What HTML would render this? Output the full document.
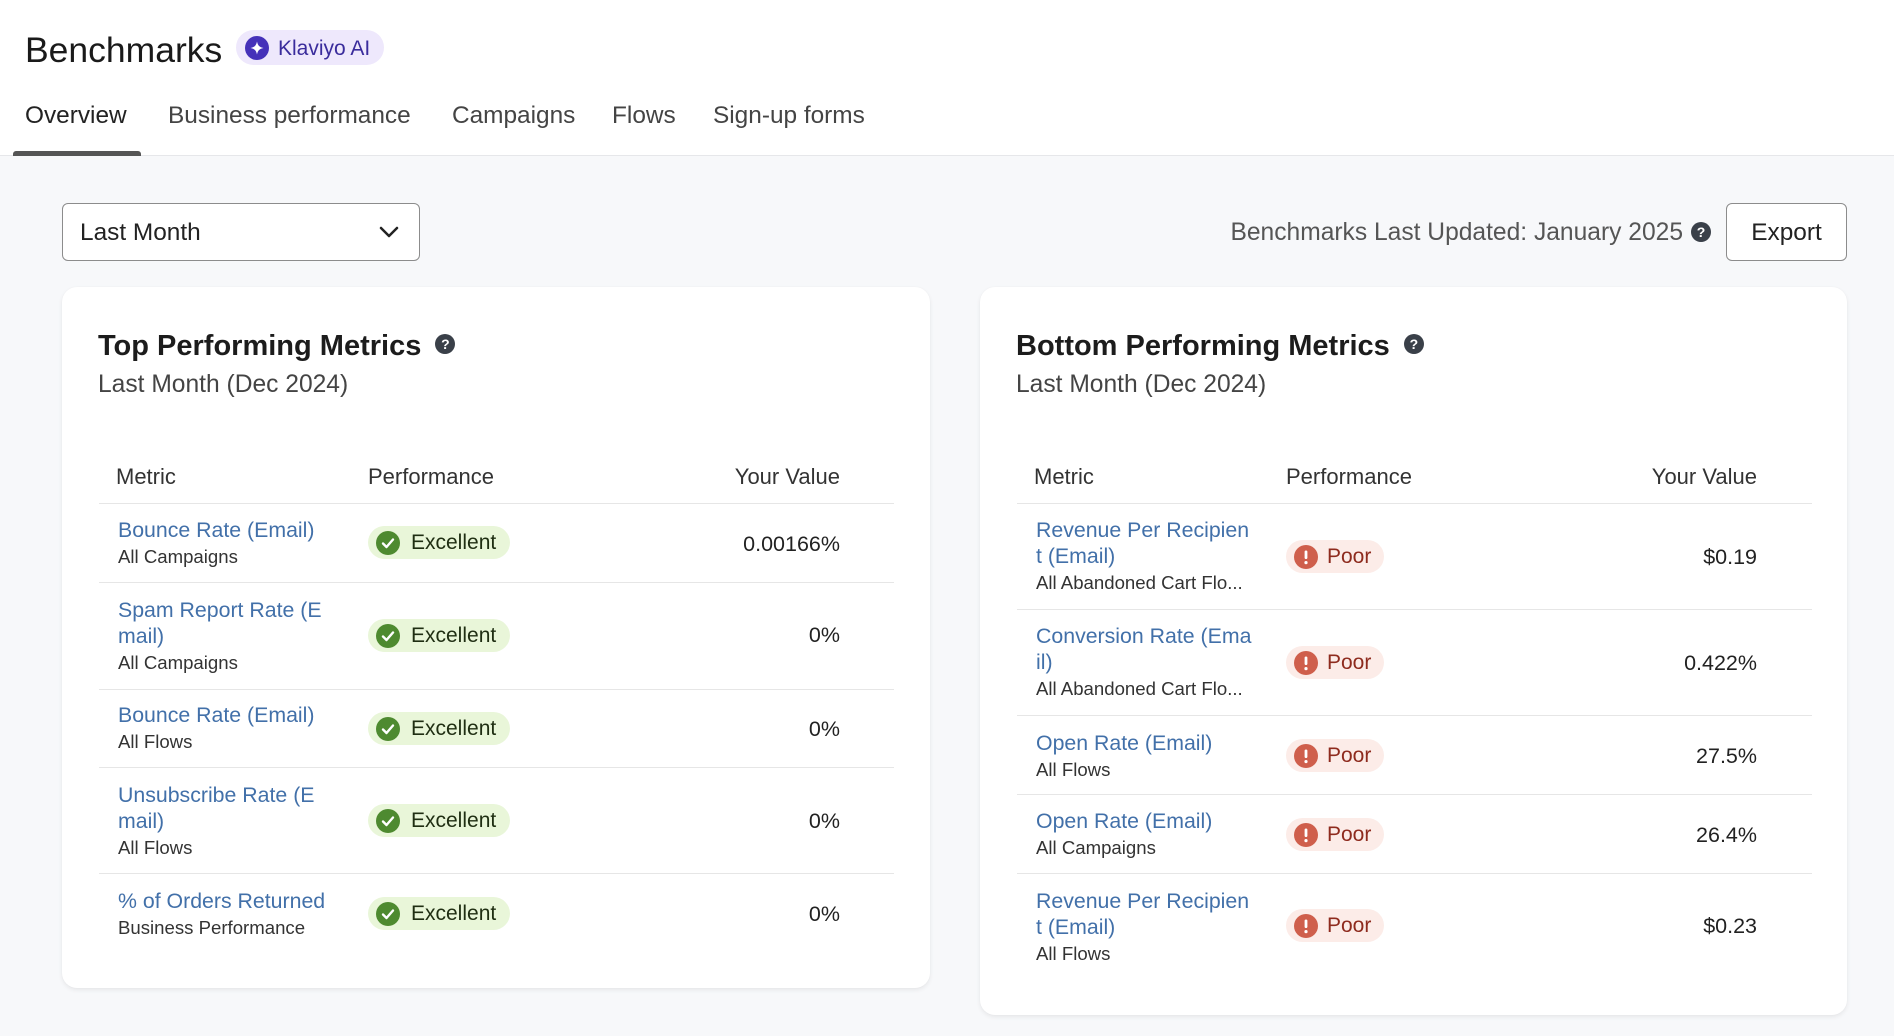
<!DOCTYPE html>
<html>
<head>
<meta charset="utf-8">
<style>
*{box-sizing:border-box;margin:0;padding:0}
html,body{width:1894px;height:1036px;overflow:hidden}
body{background:#f7f8fa;font-family:"Liberation Sans",Arial,sans-serif;color:#222;position:relative}
.abs{position:absolute;white-space:nowrap}
#top{position:absolute;left:0;top:0;width:1894px;height:156px;background:#fff;border-bottom:1px solid #e6e7ea}
.tab{position:absolute;top:102px;font-size:24.4px;line-height:28px;color:#444}
.card{position:absolute;background:#fff;border-radius:15px;box-shadow:0 2px 5px rgba(0,0,0,0.07),0 0 1px rgba(0,0,0,0.05)}
.ttl{position:absolute;left:36px;top:42px;font-size:29px;line-height:34px;font-weight:bold;color:#1c1c1c;white-space:nowrap}
.q{display:inline-block;width:20px;height:20px;border-radius:50%;background:#3a4049;color:#fff;font-size:14px;line-height:20px;text-align:center;font-weight:bold;vertical-align:middle;position:relative;top:-3px}
.sub{position:absolute;left:36px;top:84px;font-size:24.6px;line-height:28px;color:#444;white-space:nowrap}
.th{position:absolute;top:177px;font-size:22px;line-height:26px;color:#333;white-space:nowrap}
.line{position:absolute;left:37px;width:795px;height:1px;background:#e6e6e6}
.m{position:absolute;left:56px;white-space:nowrap;margin-top:1px}
.m .l{font-size:21.3px;line-height:26px;color:#4270a9}
.m .s{font-size:18.6px;line-height:28px;color:#333}
.bd{position:absolute;left:306px;height:33px;border-radius:17px;font-size:21px;line-height:33px;white-space:nowrap}
.bd svg{position:absolute;left:8px;top:4.5px}
.ex{width:142px;background:#e9f6d9;color:#1f2e12;padding-left:43px}
.pr{width:98px;background:#fcece8;color:#8e2b1e;padding-left:41px}
.v{position:absolute;right:90px;font-size:21.5px;line-height:26px;color:#222;white-space:nowrap;text-align:right;margin-top:1px}
</style>
</head>
<body>
<div id="top">
  <div class="abs" style="left:25px;top:29px;font-size:35.5px;line-height:42px;color:#1a1a1a">Benchmarks</div>
  <div class="abs" style="left:236px;top:30px;width:148px;height:35px;border-radius:18px;background:#eee8fc"></div>
  <svg class="abs" style="left:245px;top:36px" width="24" height="24" viewBox="0 0 24 24">
    <circle cx="12" cy="12" r="12" fill="#4531b9"/>
    <path d="M12 5.5 C12.8 9.5 14.5 11.2 18.5 12 C14.5 12.8 12.8 14.5 12 18.5 C11.2 14.5 9.5 12.8 5.5 12 C9.5 11.2 11.2 9.5 12 5.5Z" fill="#fff"/>
  </svg>
  <div class="abs" style="left:278px;top:36px;font-size:21px;line-height:26px;color:#3a2c9c">Klaviyo AI</div>

  <div class="tab" style="left:25px;color:#222">Overview</div>
  <div class="tab" style="left:168px">Business performance</div>
  <div class="tab" style="left:452px">Campaigns</div>
  <div class="tab" style="left:612px">Flows</div>
  <div class="tab" style="left:713px">Sign-up forms</div>
  <div class="abs" style="left:13px;top:151px;width:128px;height:5px;background:#555;border-radius:3px 3px 0 0"></div>
</div>

<!-- dropdown -->
<div class="abs" style="left:62px;top:203px;width:358px;height:58px;border:1px solid #8c8c8c;border-radius:6px;background:#fff"></div>
<div class="abs" style="left:80px;top:219px;font-size:24.4px;line-height:28px;color:#222">Last Month</div>
<svg class="abs" style="left:379px;top:226px" width="20" height="12" viewBox="0 0 20 12"><polyline points="2,2 10,10 18,2" fill="none" stroke="#222" stroke-width="2.5" stroke-linecap="round" stroke-linejoin="round"/></svg>

<div class="abs" style="left:1132px;width:551px;top:219px;font-size:24.6px;line-height:28px;color:#555;text-align:right">Benchmarks Last Updated: January 2025</div>
<div class="abs" style="left:1691px;top:222px;width:20px;height:20px;border-radius:50%;background:#3a4049;color:#fff;font-size:14px;line-height:20px;text-align:center;font-weight:bold">?</div>
<div class="abs" style="left:1726px;top:203px;width:121px;height:58px;border:1px solid #8c8c8c;border-radius:6px;background:#fff;font-size:24.4px;line-height:58px;text-align:center;color:#222">Export</div>

<!-- LEFT CARD -->
<div class="card" style="left:62px;top:287px;width:868px;height:701px">
  <div class="ttl">Top Performing Metrics <span class="q" style="margin-left:6px">?</span></div>
  <div class="sub">Last Month (Dec 2024)</div>
  <div class="th" style="left:54px">Metric</div>
  <div class="th" style="left:306px">Performance</div>
  <div class="th" style="right:90px">Your Value</div>
  <div class="line" style="top:216px"></div>

  <!-- row1 -->
  <div class="m" style="top:229px"><div class="l">Bounce Rate (Email)</div><div class="s">All Campaigns</div></div>
  <div class="bd ex" style="top:239px"><svg width="24" height="24" viewBox="0 0 24 24"><circle cx="12" cy="12" r="12" fill="#4e8a30"/><polyline points="7,12.5 10.5,16 17,8.5" fill="none" stroke="#fff" stroke-width="2.4" stroke-linecap="round" stroke-linejoin="round"/></svg>Excellent</div>
  <div class="v" style="top:243px">0.00166%</div>
  <div class="line" style="top:295px"></div>

  <!-- row2 -->
  <div class="m" style="top:309px"><div class="l">Spam Report Rate (E<br>mail)</div><div class="s">All Campaigns</div></div>
  <div class="bd ex" style="top:332px"><svg width="24" height="24" viewBox="0 0 24 24"><circle cx="12" cy="12" r="12" fill="#4e8a30"/><polyline points="7,12.5 10.5,16 17,8.5" fill="none" stroke="#fff" stroke-width="2.4" stroke-linecap="round" stroke-linejoin="round"/></svg>Excellent</div>
  <div class="v" style="top:334px">0%</div>
  <div class="line" style="top:402px"></div>

  <!-- row3 -->
  <div class="m" style="top:414px"><div class="l">Bounce Rate (Email)</div><div class="s">All Flows</div></div>
  <div class="bd ex" style="top:425px"><svg width="24" height="24" viewBox="0 0 24 24"><circle cx="12" cy="12" r="12" fill="#4e8a30"/><polyline points="7,12.5 10.5,16 17,8.5" fill="none" stroke="#fff" stroke-width="2.4" stroke-linecap="round" stroke-linejoin="round"/></svg>Excellent</div>
  <div class="v" style="top:428px">0%</div>
  <div class="line" style="top:480px"></div>

  <!-- row4 -->
  <div class="m" style="top:494px"><div class="l">Unsubscribe Rate (E<br>mail)</div><div class="s">All Flows</div></div>
  <div class="bd ex" style="top:517px"><svg width="24" height="24" viewBox="0 0 24 24"><circle cx="12" cy="12" r="12" fill="#4e8a30"/><polyline points="7,12.5 10.5,16 17,8.5" fill="none" stroke="#fff" stroke-width="2.4" stroke-linecap="round" stroke-linejoin="round"/></svg>Excellent</div>
  <div class="v" style="top:520px">0%</div>
  <div class="line" style="top:586px"></div>

  <!-- row5 -->
  <div class="m" style="top:600px"><div class="l">% of Orders Returned</div><div class="s">Business Performance</div></div>
  <div class="bd ex" style="top:610px"><svg width="24" height="24" viewBox="0 0 24 24"><circle cx="12" cy="12" r="12" fill="#4e8a30"/><polyline points="7,12.5 10.5,16 17,8.5" fill="none" stroke="#fff" stroke-width="2.4" stroke-linecap="round" stroke-linejoin="round"/></svg>Excellent</div>
  <div class="v" style="top:613px">0%</div>
</div>

<!-- RIGHT CARD -->
<div class="card" style="left:980px;top:287px;width:867px;height:728px">
  <div class="ttl">Bottom Performing Metrics <span class="q" style="margin-left:6px">?</span></div>
  <div class="sub">Last Month (Dec 2024)</div>
  <div class="th" style="left:54px">Metric</div>
  <div class="th" style="left:306px">Performance</div>
  <div class="th" style="right:90px">Your Value</div>
  <div class="line" style="top:216px"></div>

  <!-- row1 -->
  <div class="m" style="top:229px"><div class="l">Revenue Per Recipien<br>t (Email)</div><div class="s">All Abandoned Cart Flo...</div></div>
  <div class="bd pr" style="top:253px"><svg width="24" height="24" viewBox="0 0 24 24"><circle cx="12" cy="12" r="12" fill="#cf5f4c"/><rect x="10.6" y="5.5" width="2.8" height="8.5" rx="1.4" fill="#fff"/><circle cx="12" cy="17.6" r="1.6" fill="#fff"/></svg>Poor</div>
  <div class="v" style="top:256px">$0.19</div>
  <div class="line" style="top:322px"></div>

  <!-- row2 -->
  <div class="m" style="top:335px"><div class="l">Conversion Rate (Ema<br>il)</div><div class="s">All Abandoned Cart Flo...</div></div>
  <div class="bd pr" style="top:359px"><svg width="24" height="24" viewBox="0 0 24 24"><circle cx="12" cy="12" r="12" fill="#cf5f4c"/><rect x="10.6" y="5.5" width="2.8" height="8.5" rx="1.4" fill="#fff"/><circle cx="12" cy="17.6" r="1.6" fill="#fff"/></svg>Poor</div>
  <div class="v" style="top:362px">0.422%</div>
  <div class="line" style="top:428px"></div>

  <!-- row3 -->
  <div class="m" style="top:442px"><div class="l">Open Rate (Email)</div><div class="s">All Flows</div></div>
  <div class="bd pr" style="top:452px"><svg width="24" height="24" viewBox="0 0 24 24"><circle cx="12" cy="12" r="12" fill="#cf5f4c"/><rect x="10.6" y="5.5" width="2.8" height="8.5" rx="1.4" fill="#fff"/><circle cx="12" cy="17.6" r="1.6" fill="#fff"/></svg>Poor</div>
  <div class="v" style="top:455px">27.5%</div>
  <div class="line" style="top:507px"></div>

  <!-- row4 -->
  <div class="m" style="top:520px"><div class="l">Open Rate (Email)</div><div class="s">All Campaigns</div></div>
  <div class="bd pr" style="top:531px"><svg width="24" height="24" viewBox="0 0 24 24"><circle cx="12" cy="12" r="12" fill="#cf5f4c"/><rect x="10.6" y="5.5" width="2.8" height="8.5" rx="1.4" fill="#fff"/><circle cx="12" cy="17.6" r="1.6" fill="#fff"/></svg>Poor</div>
  <div class="v" style="top:534px">26.4%</div>
  <div class="line" style="top:586px"></div>

  <!-- row5 -->
  <div class="m" style="top:600px"><div class="l">Revenue Per Recipien<br>t (Email)</div><div class="s">All Flows</div></div>
  <div class="bd pr" style="top:622px"><svg width="24" height="24" viewBox="0 0 24 24"><circle cx="12" cy="12" r="12" fill="#cf5f4c"/><rect x="10.6" y="5.5" width="2.8" height="8.5" rx="1.4" fill="#fff"/><circle cx="12" cy="17.6" r="1.6" fill="#fff"/></svg>Poor</div>
  <div class="v" style="top:625px">$0.23</div>
</div>
</body>
</html>
